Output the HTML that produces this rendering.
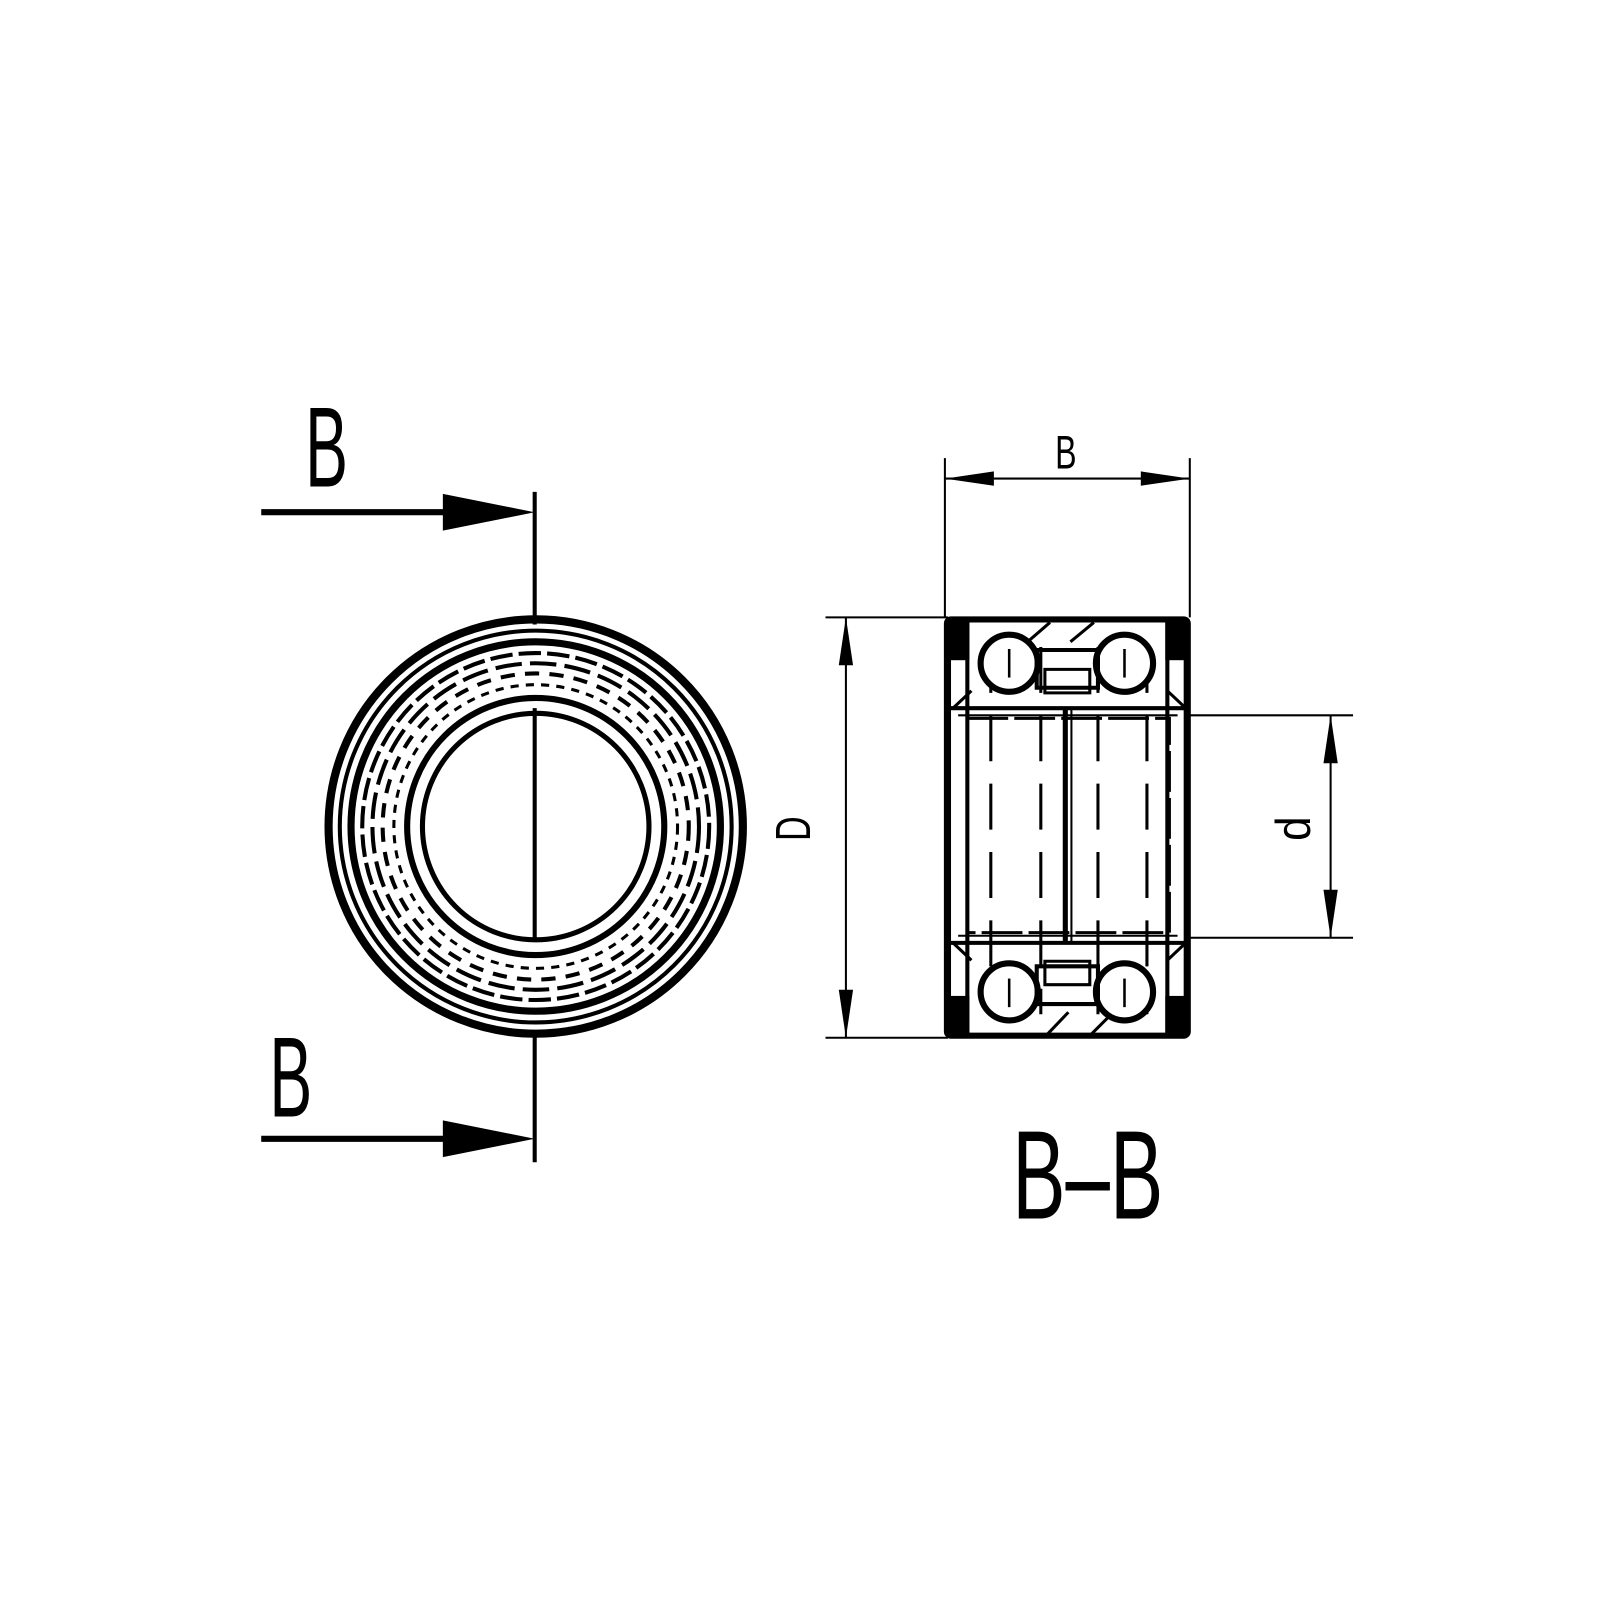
<!DOCTYPE html>
<html><head><meta charset="utf-8"><style>
html,body{margin:0;padding:0;background:#fff}
svg{display:block}
text{font-family:"Liberation Sans",sans-serif;fill:#000}
</style></head><body>
<svg width="1600" height="1600" viewBox="-4 -4 1568 1568" xmlns="http://www.w3.org/2000/svg">
<rect x="-4" y="-4" width="1568" height="1568" fill="#fff"/>
<!-- Left view -->
<text x="295" y="473" font-size="112" textLength="42" lengthAdjust="spacingAndGlyphs">B</text>
<line x1="252" y1="498" x2="440" y2="498" stroke="#000" stroke-width="6"/>
<polygon points="430,480 520,498 430,516" fill="#000"/>
<line x1="520" y1="478" x2="520" y2="608" stroke="#000" stroke-width="4"/>

<text x="260" y="1090" font-size="112" textLength="42" lengthAdjust="spacingAndGlyphs">B</text>
<line x1="252" y1="1112" x2="440" y2="1112" stroke="#000" stroke-width="6"/>
<polygon points="430,1094 520,1112 430,1130" fill="#000"/>
<line x1="520" y1="1006" x2="520" y2="1135" stroke="#000" stroke-width="4"/>

<g fill="none" stroke="#000">
<circle cx="521" cy="806" r="203" stroke-width="8"/>
<circle cx="521" cy="806" r="192" stroke-width="4"/>
<circle cx="521" cy="806" r="181" stroke-width="7"/>
<circle cx="521" cy="806" r="170" stroke-width="4" stroke-dasharray="22 6"/>
<circle cx="521" cy="806" r="160" stroke-width="4" stroke-dasharray="26 8"/>
<circle cx="521" cy="806" r="150" stroke-width="4" stroke-dasharray="14 10"/>
<circle cx="521" cy="806" r="139" stroke-width="3" stroke-dasharray="8 7"/>
<circle cx="521" cy="806" r="126" stroke-width="6"/>
<circle cx="521" cy="806" r="111" stroke-width="5"/>
</g>
<line x1="520" y1="690" x2="520" y2="915" stroke="#000" stroke-width="4"/>

<!-- Right section -->
<g stroke="#000" fill="none">
<line x1="922" y1="445" x2="922" y2="601" stroke-width="2"/>
<line x1="1162" y1="445" x2="1162" y2="601" stroke-width="2"/>
<line x1="922" y1="465" x2="1162" y2="465" stroke-width="2"/>
<line x1="805" y1="601" x2="925" y2="601" stroke-width="2"/>
<line x1="805" y1="1013" x2="925" y2="1013" stroke-width="2"/>
<line x1="825" y1="601" x2="825" y2="1013" stroke-width="2"/>
<line x1="1160" y1="697" x2="1322" y2="697" stroke-width="2"/>
<line x1="1160" y1="915" x2="1322" y2="915" stroke-width="2"/>
<line x1="1300" y1="697" x2="1300" y2="915" stroke-width="2"/>
</g>
<g fill="#000">
<polygon points="922,465 970,458 970,472"/>
<polygon points="1162,465 1114,458 1114,472"/>
<polygon points="825,601 818,648 832,648"/>
<polygon points="825,1013 818,966 832,966"/>
<polygon points="1300,697 1293,744 1307,744"/>
<polygon points="1300,915 1293,868 1307,868"/>
</g>
<text x="1030" y="455" font-size="46" textLength="21" lengthAdjust="spacingAndGlyphs">B</text>
<text transform="translate(790,820) rotate(-90)" font-size="48" textLength="24" lengthAdjust="spacingAndGlyphs">D</text>
<text transform="translate(1280,820) rotate(-90)" font-size="48" textLength="24" lengthAdjust="spacingAndGlyphs">d</text>
<text x="988" y="1190" font-size="124" textLength="148" lengthAdjust="spacingAndGlyphs">B–B</text>

<g stroke="#000" fill="none">
<rect x="924" y="603" width="236" height="408" rx="4" stroke-width="6"/>
<line x1="926" y1="690" x2="1160" y2="690" stroke-width="4"/>
<line x1="926" y1="920" x2="1160" y2="920" stroke-width="4"/>
<line x1="935" y1="697" x2="1150" y2="697" stroke-width="2"/>
<line x1="935" y1="913" x2="1150" y2="913" stroke-width="2"/>
<rect x="926" y="605" width="18" height="402" stroke-width="4"/>
<rect x="1140" y="605" width="18" height="402" stroke-width="4"/>
<rect x="944" y="700" width="198" height="210" stroke-width="3" stroke-dasharray="40 6"/>
<line x1="1040" y1="690" x2="1040" y2="920" stroke-width="5"/>
<line x1="1046" y1="690" x2="1046" y2="920" stroke-width="2"/>
<g stroke-width="3" stroke-dasharray="45 22">
<line x1="967" y1="630" x2="967" y2="990"/>
<line x1="1016" y1="630" x2="1016" y2="990"/>
<line x1="1072" y1="630" x2="1072" y2="990"/>
<line x1="1120" y1="630" x2="1120" y2="990"/>
</g>
<circle cx="985" cy="646" r="28" stroke-width="6" fill="#fff"/>
<circle cx="1098" cy="646" r="28" stroke-width="6" fill="#fff"/>
<circle cx="985" cy="968" r="28" stroke-width="6" fill="#fff"/>
<circle cx="1098" cy="968" r="28" stroke-width="6" fill="#fff"/>
<line x1="985" y1="632" x2="985" y2="660" stroke-width="2.5"/>
<line x1="1098" y1="632" x2="1098" y2="660" stroke-width="2.5"/>
<line x1="985" y1="955" x2="985" y2="983" stroke-width="2.5"/>
<line x1="1098" y1="955" x2="1098" y2="983" stroke-width="2.5"/>
<path d="M1012,633 H1072 V670 H1012 Z" stroke-width="4"/>
<path d="M1012,980 H1072 V943 H1012 Z" stroke-width="4"/>
<path d="M1020,652 H1064 V675 H1020 Z" stroke-width="3"/>
<path d="M1020,938 H1064 V961 H1020 Z" stroke-width="3"/>
<g stroke-width="3">
<line x1="1003" y1="625" x2="1025" y2="606"/>
<line x1="1045" y1="625" x2="1068" y2="606"/>
<line x1="1022" y1="1010" x2="1043" y2="988"/>
<line x1="1065" y1="1010" x2="1085" y2="990"/>
<line x1="930" y1="690" x2="948" y2="673"/>
<line x1="1140" y1="673" x2="1158" y2="690"/>
<line x1="930" y1="920" x2="948" y2="937"/>
<line x1="1140" y1="937" x2="1158" y2="920"/>
</g>
</g>
<g fill="#000">
<rect x="924" y="605" width="22" height="38"/>
<rect x="1138" y="605" width="22" height="38"/>
<rect x="924" y="972" width="22" height="38"/>
<rect x="1138" y="972" width="22" height="38"/>
</g>
</svg>
</body></html>
